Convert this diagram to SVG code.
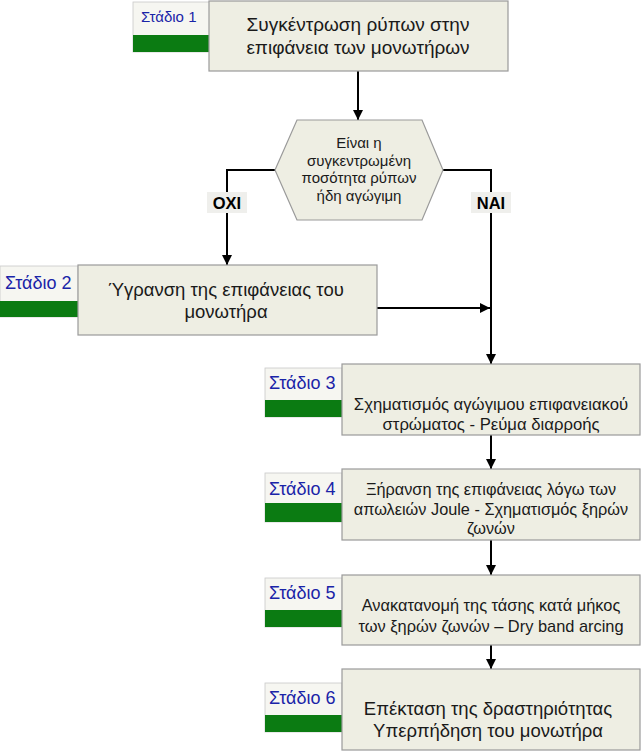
<svg xmlns="http://www.w3.org/2000/svg" width="641" height="752" viewBox="0 0 641 752">
<defs>
<marker id="ah" viewBox="0 0 10 10" refX="10" refY="5" markerWidth="10" markerHeight="10" markerUnits="userSpaceOnUse" orient="auto">
<path d="M0,0 L10,5 L0,10 z" fill="#000"/>
</marker>
</defs>
<style>
.box{fill:#EEEEE3;stroke:#9a9a9a;stroke-width:1.2}
.tab{fill:#F6F6F1;stroke:#c8c8c8;stroke-width:0.8}
.grn{fill:#0B7B12}
.t{font-family:"Liberation Sans",Arial,sans-serif;fill:#1a1a1a;text-anchor:middle}
.st{font-family:"Liberation Sans",Arial,sans-serif;fill:#1a24a8;font-size:18px}
.lbl{font-family:"Liberation Sans",Arial,sans-serif;font-weight:bold;font-size:16.5px;fill:#000;text-anchor:middle}
.c{fill:none;stroke:#000;stroke-width:2}
</style>
<rect width="641" height="752" fill="#fff"/>
<g id="connectors">
<line class="c" x1="358" y1="71" x2="358" y2="120" marker-end="url(#ah)"/>
<polyline class="c" points="275,170 227,170 227,265" marker-end="url(#ah)"/>
<polyline class="c" points="443,170 491,170 491,364" marker-end="url(#ah)"/>
<line class="c" x1="377" y1="308" x2="490" y2="308" marker-end="url(#ah)"/>
<line class="c" x1="491" y1="435" x2="491" y2="469" marker-end="url(#ah)"/>
<line class="c" x1="491" y1="540" x2="491" y2="575" marker-end="url(#ah)"/>
<line class="c" x1="491" y1="645" x2="491" y2="669" marker-end="url(#ah)"/>
</g>
<g id="lbl-oxi">
<rect x="207" y="192" width="40" height="21" fill="#EFEFEC"/>
<text class="lbl" x="227" y="209">OXI</text>
</g>
<g id="lbl-nai">
<rect x="471" y="192" width="40" height="21" fill="#EFEFEC"/>
<text class="lbl" x="491" y="209">NAI</text>
</g>
<g id="stage1">
<rect class="tab" x="133" y="2" width="77" height="50"/>
<rect class="grn" x="133" y="35" width="77" height="17"/>
<text class="st" x="141" y="22" style="font-size:15px">Στάδιο 1</text>
<rect class="box" x="209" y="1" width="299" height="70"/>
<text class="t" x="358" y="31" font-size="19">Συγκέντρωση ρύπων στην</text>
<text class="t" x="358" y="54" font-size="19">επιφάνεια των μονωτήρων</text>
</g>
<g id="decision">
<polygon points="297,120 422,120 443,170 422,220 297,220 275,170" fill="#EEEEE3" stroke="#9a9a9a" stroke-width="1.2"/>
<text class="t" x="359" y="148" font-size="15">Είναι η</text>
<text class="t" x="359" y="166" font-size="15">συγκεντρωμένη</text>
<text class="t" x="359" y="183" font-size="15">ποσότητα ρύπων</text>
<text class="t" x="359" y="201" font-size="15">ήδη αγώγιμη</text>
</g>
<g id="stage2">
<rect class="tab" x="0" y="266" width="78" height="51"/>
<rect class="grn" x="0" y="301" width="78" height="16"/>
<text class="st" x="5" y="289">Στάδιο 2</text>
<rect class="box" x="78" y="265" width="299" height="70"/>
<text class="t" x="226" y="296" font-size="18.5">Ύγρανση της επιφάνειας του</text>
<text class="t" x="226" y="318" font-size="18.5">μονωτήρα</text>
</g>
<g id="stage3">
<rect class="tab" x="265" y="368" width="77" height="49"/>
<rect class="grn" x="265" y="400" width="77" height="17"/>
<text class="st" x="269" y="389">Στάδιο 3</text>
<rect class="box" x="342" y="364" width="298" height="71"/>
<text class="t" x="491" y="410" font-size="16.7">Σχηματισμός αγώγιμου επιφανειακού</text>
<text class="t" x="491" y="430" font-size="16.7">στρώματος - Ρεύμα διαρροής</text>
</g>
<g id="stage4">
<rect class="tab" x="265" y="473" width="77" height="49"/>
<rect class="grn" x="265" y="503" width="77" height="19"/>
<text class="st" x="269" y="495">Στάδιο 4</text>
<rect class="box" x="342" y="469" width="298" height="71"/>
<text class="t" x="491" y="495" font-size="16.3">Ξήρανση της επιφάνειας λόγω των</text>
<text class="t" x="491" y="515" font-size="16.3">απωλειών Joule - Σχηματισμός ξηρών</text>
<text class="t" x="491" y="534" font-size="16.3">ζωνών</text>
</g>
<g id="stage5">
<rect class="tab" x="265" y="578" width="77" height="49"/>
<rect class="grn" x="265" y="610" width="77" height="17"/>
<text class="st" x="269" y="599">Στάδιο 5</text>
<rect class="box" x="342" y="575" width="298" height="70"/>
<text class="t" x="491" y="611" font-size="16.4">Ανακατανομή της τάσης κατά μήκος</text>
<text class="t" x="491" y="632" font-size="16.4">των ξηρών ζωνών – Dry band arcing</text>
</g>
<g id="stage6">
<rect class="tab" x="265" y="683" width="77" height="49"/>
<rect class="grn" x="265" y="715" width="77" height="17"/>
<text class="st" x="269" y="704">Στάδιο 6</text>
<rect class="box" x="342" y="669" width="298" height="81"/>
<text class="t" x="488" y="715" font-size="18.5">Επέκταση της δραστηριότητας</text>
<text class="t" x="488" y="737" font-size="18.5">Υπερπήδηση του μονωτήρα</text>
</g>
</svg>
